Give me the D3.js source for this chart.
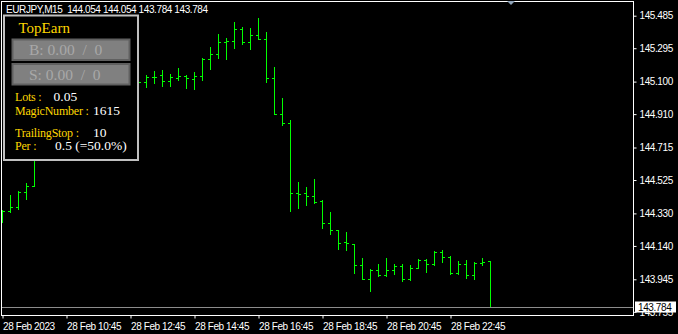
<!DOCTYPE html>
<html>
<head>
<meta charset="utf-8">
<script src="https://cdn.jsdelivr.net/npm/d3@7/dist/d3.min.js"></script>
<style>
    html, body { margin: 0; padding: 0; background: #000; overflow: hidden; }
    svg { display: block; }
    .axis text, .hdr { font-family: "Liberation Sans", Arial, sans-serif; font-size: 10px; letter-spacing: -0.4px; }
    .pnl { font-family: "Liberation Serif", "Times New Roman", serif; white-space: pre; }
</style>
</head>
<body>
<div class="chart"></div>
<script>
// EURJPY M15 bars (bars 5-16 sit behind the panel)
var barOpen  = [144.321, 144.344, 144.367, 144.455, 144.490, 144.671, 144.730, 144.771, 144.817, 144.829,
                144.905, 144.934, 144.969, 145.016, 144.993, 145.051, 145.074, 145.086, 145.098, 145.125,
                145.137, 145.102, 145.121, 145.131, 145.115, 145.131, 145.230, 145.259, 145.333, 145.337,
                145.407, 145.330, 145.372, 145.347, 145.119, 144.909, 144.856, 144.447, 144.449, 144.432,
                144.402, 144.276, 144.231, 144.163, 144.153, 144.027, 143.947, 144.001, 143.970, 144.001,
                144.024, 143.945, 144.013, 144.056, 144.033, 144.103, 144.077, 143.980, 144.033, 143.968,
                144.039, 144.054];
var barHigh  = [144.350, 144.438, 144.461, 144.509, 144.700, 144.759, 144.788, 144.846, 144.876, 144.922,
                144.963, 144.993, 145.039, 145.063, 145.080, 145.109, 145.121, 145.133, 145.137, 145.164,
                145.168, 145.143, 145.181, 145.137, 145.154, 145.238, 145.302, 145.378, 145.355, 145.448,
                145.419, 145.413, 145.472, 145.388, 145.184, 145.002, 144.874, 144.512, 144.482, 144.529,
                144.410, 144.338, 144.231, 144.221, 144.153, 144.069, 144.007, 144.033, 144.068, 144.034,
                144.033, 144.027, 144.062, 144.062, 144.109, 144.114, 144.079, 144.052, 144.058, 144.046,
                144.069, 144.054];
var barLow   = [144.282, 144.340, 144.356, 144.416, 144.488, 144.668, 144.700, 144.730, 144.771, 144.800,
                144.864, 144.887, 144.934, 144.969, 144.957, 145.016, 145.039, 145.063, 145.070, 145.094,
                145.076, 145.074, 145.109, 145.064, 145.059, 145.108, 145.175, 145.238, 145.234, 145.298,
                145.318, 145.289, 145.347, 145.096, 144.909, 144.846, 144.346, 144.363, 144.381, 144.389,
                144.243, 144.208, 144.124, 144.118, 143.980, 143.947, 143.875, 143.966, 143.963, 143.974,
                143.933, 143.941, 144.009, 143.989, 144.029, 144.048, 143.974, 143.974, 143.954, 143.949,
                144.030, 143.784];
var barClose = [144.344, 144.367, 144.455, 144.490, 144.671, 144.730, 144.771, 144.817, 144.829, 144.905,
                144.934, 144.969, 145.016, 144.993, 145.051, 145.074, 145.086, 145.098, 145.125, 145.129,
                145.102, 145.129, 145.131, 145.119, 145.131, 145.234, 145.259, 145.333, 145.337, 145.406,
                145.330, 145.372, 145.351, 145.119, 144.909, 144.856, 144.447, 144.443, 144.432, 144.398,
                144.276, 144.231, 144.159, 144.155, 144.027, 143.947, 144.001, 143.970, 144.001, 144.021,
                143.945, 144.013, 144.058, 144.033, 144.103, 144.075, 143.980, 144.033, 143.970, 144.039,
                144.044, 143.784];

// axis ticks
var priceTicks = [145.485, 145.295, 145.100, 144.910, 144.715, 144.525, 144.330, 144.140, 143.945, 143.755];
var timeTickBars = [0, 8, 16, 24, 32, 40, 48, 56];
var timeTickLabels = ["28 Feb 2023", "28 Feb 10:45", "28 Feb 12:45", "28 Feb 14:45",
                      "28 Feb 16:45", "28 Feb 18:45", "28 Feb 20:45", "28 Feb 22:45"];
var lastPrice = 143.784;
var headerText = "EURJPY,M15  144.054 144.054 143.784 143.784";

// TopEarn panel
var panelTitle = "TopEarn";
var buttonTexts = ["B: 0.00  /  0", "S: 0.00  /  0"];
var panelLabels = ["Lots :", "MagicNumber :", "TrailingStop :", "Per :"];
var panelValues = ["0.05", "1615", "10", "0.5 (=50.0%)"];

var width = 678, height = 334;
var plot = {left: 1, top: 1, right: 633, bottom: 315};

var svg = d3.select(".chart").append("svg")
    .attr("width", width)
    .attr("height", height)
    .style("background", "#000");

var n = barClose.length;
var x = d3.scaleLinear().domain([0, n - 1]).range([2, 2 + 8 * (n - 1)]);
var y = d3.scaleLinear().domain([143.945, 145.485]).range([279.3, 15.7]);

var bars = barClose.map(function(c, i) {
    return {i: i, o: barOpen[i], h: barHigh[i], l: barLow[i], c: c};
});

// clip bars to the plot frame
svg.append("clipPath").attr("id", "plotclip")
    .append("rect")
    .attr("x", plot.left + 1).attr("y", plot.top + 1)
    .attr("width", plot.right - plot.left - 1)
    .attr("height", plot.bottom - plot.top - 1);

var g = svg.append("g")
    .attr("clip-path", "url(#plotclip)")
    .attr("shape-rendering", "crispEdges")
    .attr("fill", "#00ff00");

var bar = g.selectAll(".bar").data(bars).enter().append("g").attr("class", "bar");
bar.append("rect")
    .attr("x", function(d) { return Math.round(x(d.i)); })
    .attr("y", function(d) { return Math.round(y(d.h)); })
    .attr("width", 1)
    .attr("height", function(d) { return Math.round(y(d.l)) - Math.round(y(d.h)) + 1; });
bar.append("rect")
    .attr("x", function(d) { return Math.round(x(d.i)) - 2; })
    .attr("y", function(d) { return Math.round(y(d.o)); })
    .attr("width", 2).attr("height", 1);
bar.append("rect")
    .attr("x", function(d) { return Math.round(x(d.i)) + 1; })
    .attr("y", function(d) { return Math.round(y(d.c)); })
    .attr("width", 2).attr("height", 1);

// last price line
svg.append("line")
    .attr("x1", plot.left).attr("x2", plot.right)
    .attr("y1", Math.round(y(lastPrice)) + 0.5).attr("y2", Math.round(y(lastPrice)) + 0.5)
    .attr("stroke", "#8c8c8c").attr("stroke-width", 1);

// frame
svg.append("rect")
    .attr("x", plot.left + 0.5).attr("y", plot.top + 0.5)
    .attr("width", plot.right - plot.left).attr("height", plot.bottom - plot.top)
    .attr("fill", "none").attr("stroke", "#fff").attr("stroke-width", 1)
    .attr("shape-rendering", "crispEdges");

// price axis (right)
var yAxis = svg.append("g").attr("class", "axis")
    .attr("transform", "translate(" + (plot.right + 0.5) + ",0)")
    .call(d3.axisRight(y).tickValues(priceTicks).tickSize(3).tickPadding(3)
        .tickFormat(d3.format(".3f")));
yAxis.select(".domain").remove();
yAxis.selectAll("line").attr("stroke", "#fff");
yAxis.selectAll("text").attr("fill", "#fff");

// last price label, drawn over the lowest tick label as in the terminal
var lp = svg.append("g").attr("transform", "translate(635," + (Math.round(y(lastPrice)) - 5.5) + ")");
lp.append("rect").attr("width", 41).attr("height", 11).attr("fill", "#fff");
lp.append("text").attr("class", "hdr").attr("x", 3).attr("y", 9).attr("fill", "#000").text(d3.format(".3f")(lastPrice));

// time axis (bottom)
var xAxis = svg.append("g").attr("class", "axis")
    .attr("transform", "translate(0.5," + (plot.bottom + 0.5) + ")")
    .call(d3.axisBottom(x).tickValues(timeTickBars).tickSize(3).tickPadding(4)
        .tickFormat(function(d, i) { return timeTickLabels[i]; }));
xAxis.select(".domain").remove();
xAxis.selectAll("line").attr("stroke", "#fff");
xAxis.selectAll("text").attr("fill", "#fff").attr("text-anchor", "start").attr("x", 0);

// header
svg.append("text").attr("class", "hdr")
    .attr("x", 6).attr("y", 12.5)
    .attr("fill", "#fff")
    .style("white-space", "pre")
    .text(headerText);

// little scroll marker at the top
svg.append("path")
    .attr("d", "M507,1L515,1L511,5Z")
    .attr("fill", "#8fa3b8");

// the EA panel
var pnl = svg.append("g");
pnl.append("rect")
    .attr("x", 4).attr("y", 15.5).attr("width", 134).attr("height", 144.5)
    .attr("fill", "#000").attr("stroke", "#c0c0c0").attr("stroke-width", 2);
pnl.append("text").attr("class", "pnl")
    .attr("x", 18.5).attr("y", 32.5)
    .attr("fill", "#ffd700").style("font-size", "15px")
    .text(panelTitle);

var btnY = [39.5, 64];
buttonTexts.forEach(function(t, i) {
    pnl.append("rect")
        .attr("x", 12.5).attr("y", btnY[i]).attr("width", 117).attr("height", 20.5)
        .attr("fill", "#808080").attr("stroke", "#606060").attr("stroke-width", 2);
    pnl.append("text").attr("class", "pnl")
        .attr("x", 29).attr("y", btnY[i] + 15.5)
        .attr("fill", "#a8a8a8").style("font-size", "15.5px")
        .text(t);
});

var rowY = [101, 114.7, 136.7, 150];
var valX = [53.5, 93, 93, 55];
panelLabels.forEach(function(t, i) {
    pnl.append("text").attr("class", "pnl")
        .attr("x", 15).attr("y", rowY[i])
        .attr("fill", "#ffd700").style("font-size", "12px")
        .style("letter-spacing", "-0.2px")
        .text(t);
    pnl.append("text").attr("class", "pnl")
        .attr("x", valX[i]).attr("y", rowY[i])
        .attr("fill", "#fff").style("font-size", "13.5px")
        .text(panelValues[i]);
});
</script>
</body>
</html>
